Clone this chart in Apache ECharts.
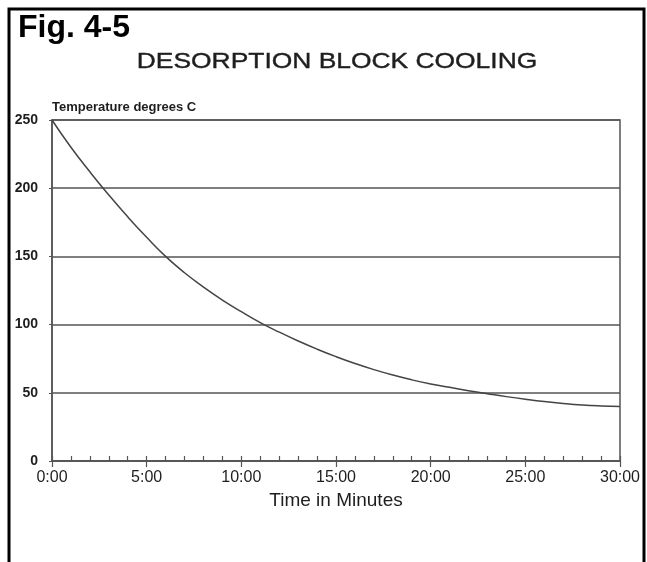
<!DOCTYPE html>
<html>
<head>
<meta charset="utf-8">
<title>Desorption Block Cooling</title>
<script src="https://cdn.jsdelivr.net/npm/echarts@6/dist/echarts.min.js"></script>
<style>
  html, body { margin: 0; padding: 0; background: #fff; }
  #chart { width: 647px; height: 562px; }
</style>
</head>
<body>
<div id="chart"></div>
<script>
// time in minutes and block temperature (deg C)
const minutes = [0, 1, 2, 3, 4, 5, 6, 7, 8, 9, 10, 11, 12, 13, 14, 15,
  16, 17, 18, 19, 20, 21, 22, 23, 24, 25, 26, 27, 28, 29, 30];
const temperature = [250, 230, 212, 195, 179, 164, 150, 138, 127.5, 118, 109.5, 101.5, 94.5, 88, 82, 76.5,
  71.5, 67, 63, 59.5, 56.5, 54, 51.5, 49.3, 47.2, 45.3, 43.6, 42.2, 41.1, 40.4, 40];
const xTickLabels = ['0:00', '5:00', '10:00', '15:00', '20:00', '25:00', '30:00'];

const ink = '#1e1e1e';
const lineInk = '#555';

const chart = echarts.init(document.getElementById('chart'));

const option = {
  backgroundColor: '#fff',
  animation: false,
  textStyle: { fontFamily: 'Liberation Sans, Arial, sans-serif' },
  graphic: [
    // black frame of the figure (open at the bottom)
    {
      type: 'polyline',
      shape: { points: [[9, 562], [9, 9], [644, 9], [644, 562]] },
      style: { stroke: '#000', lineWidth: 3, fill: null }
    },
    {
      type: 'text',
      left: 18,
      top: 12,
      style: { text: 'Fig. 4-5', fill: '#000', font: 'bold 32px "Liberation Sans", Arial, sans-serif' }
    },
    {
      type: 'text',
      x: 337,
      y: 62,
      scaleX: 1.2,
      style: {
        text: 'DESORPTION BLOCK COOLING',
        fill: ink,
        stroke: ink,
        lineWidth: 0.4,
        align: 'center',
        verticalAlign: 'middle',
        font: '22px "Liberation Sans", Arial, sans-serif'
      }
    },
    {
      type: 'text',
      left: 52,
      top: 101,
      style: { text: 'Temperature degrees C', fill: ink, font: 'bold 13px "Liberation Sans", Arial, sans-serif' }
    }
  ],
  grid: {
    left: 52,
    right: 27,
    top: 120,
    bottom: 101,
    show: true,
    borderColor: lineInk,
    borderWidth: 1.5
  },
  xAxis: [
    {
      type: 'value',
      min: 0,
      max: 30,
      interval: 5,
      axisLine: { show: true, lineStyle: { color: lineInk, width: 1.5 } },
      axisTick: { show: true, length: 6, lineStyle: { color: lineInk, width: 1.2 } },
      splitLine: { show: false },
      axisLabel: {
        color: ink,
        fontSize: 16,
        margin: 9,
        formatter: v => xTickLabels[v / 5]
      },
      name: 'Time in Minutes',
      nameLocation: 'middle',
      nameGap: 27,
      nameTextStyle: { color: ink, fontSize: 19 }
    },
    {
      // the small minute ticks standing up inside the plot
      type: 'value',
      min: 0,
      max: 30,
      interval: 1,
      position: 'bottom',
      axisLine: { show: false },
      axisTick: { show: true, inside: true, length: 5, lineStyle: { color: lineInk, width: 1.2 } },
      axisLabel: { show: false },
      splitLine: { show: false }
    }
  ],
  yAxis: {
    type: 'value',
    min: 0,
    max: 250,
    interval: 50,
    axisLine: { show: true, lineStyle: { color: lineInk, width: 1.5 } },
    axisTick: { show: true, length: 3, lineStyle: { color: lineInk } },
    splitLine: { show: true, lineStyle: { color: lineInk, width: 1.5 } },
    axisLabel: { color: ink, fontSize: 14, fontWeight: 'bold', margin: 14 }
  },
  series: [
    {
      type: 'line',
      xAxisIndex: 0,
      data: minutes.map((m, i) => [m, temperature[i]]),
      smooth: true,
      showSymbol: false,
      lineStyle: { color: '#444', width: 1.5 }
    }
  ]
};

chart.setOption(option);
</script>
</body>
</html>
